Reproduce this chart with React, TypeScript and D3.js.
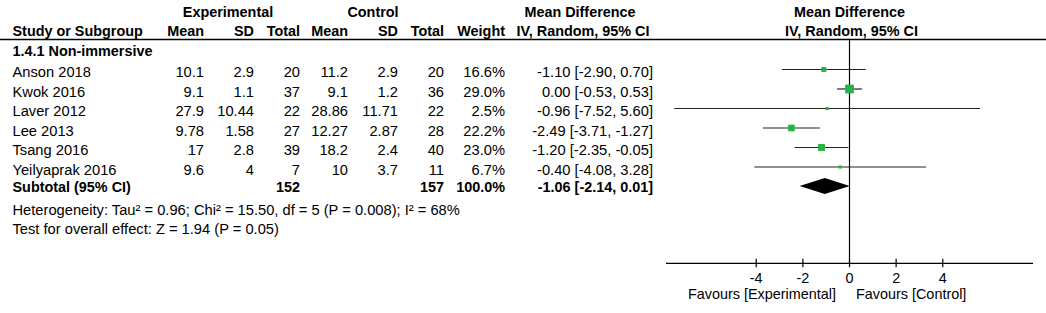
import React from "react";
import * as d3 from "d3";

const studies = ["Anson 2018", "Kwok 2016", "Laver 2012", "Lee 2013", "Tsang 2016", "Yeilyaprak 2016"];
const expMean = [10.1, 9.1, 27.9, 9.78, 17, 9.6];
const expSD = [2.9, 1.1, 10.44, 1.58, 2.8, 4];
const expN = [20, 37, 22, 27, 39, 7];
const ctlMean = [11.2, 9.1, 28.86, 12.27, 18.2, 10];
const ctlSD = [2.9, 1.2, 11.71, 2.87, 2.4, 3.7];
const ctlN = [20, 36, 22, 28, 40, 11];
const weights = [16.6, 29.0, 2.5, 22.2, 23.0, 6.7];
const md = [-1.1, 0.0, -0.96, -2.49, -1.2, -0.4];
const ciLo = [-2.9, -0.53, -7.52, -3.71, -2.35, -4.08];
const ciHi = [0.7, 0.53, 5.6, -1.27, -0.05, 3.28];
const subtotalN = [152, 157];
const subtotalWeight = 100.0;
const subtotalMD = [-1.06, -2.14, 0.01];
const ticks = [-4, -2, 0, 2, 4];
const groupTitle = "1.4.1 Non-immersive";
const heterogeneity = "Heterogeneity: Tau\u00b2 = 0.96; Chi\u00b2 = 15.50, df = 5 (P = 0.008); I\u00b2 = 68%";
const overallEffect = "Test for overall effect: Z = 1.94 (P = 0.05)";

const W = 1046;
const H = 313;
const FONT = "'Liberation Sans', Arial, Helvetica, sans-serif";
const FS = 14.7;
const FSB = 14.4;
const FSAX = 14.4;
const GREEN = "#25b443";

const x = d3.scaleLinear().domain([-7.87, 7.87]).range([666, 1033]);
const y = d3.scalePoint<string>().domain(studies).range([69.5, 167]);
const size = d3.scaleLinear().domain([0, 29]).range([0, 8.7]);

const cols = { name: 12.5, eMean: 204, eSD: 254, eN: 300, cMean: 348, cSD: 398, cN: 444, w: 505, ci: 653 };

const fmt2 = (v: number) => v.toFixed(2).replace("-0.00", "0.00");
const ciText = (m: number, l: number, h: number) => `${fmt2(m)} [${fmt2(l)}, ${fmt2(h)}]`;

export default function App() {
  const headerLineY = 39.5;
  const axisY = 263.3;
  const subY = 186;
  const tb = 7.6;
  const x0 = x(0);

  const T = (props: any) => (
    <text fontFamily={FONT} fontSize={props.fontWeight === "bold" ? FSB : FS} fill="#000" {...props} />
  );

  return (
    <svg
      width={W}
      height={H}
      style={{ position: "absolute", left: 0, top: 0, background: "#fff" }}
    >
      <rect x={0} y={0} width={W} height={H} fill="#fff" />
      <T x={228} y={17} textAnchor="middle" fontWeight="bold">Experimental</T>
      <T x={373} y={17} textAnchor="middle" fontWeight="bold">Control</T>
      <T x={580} y={17} textAnchor="middle" fontWeight="bold">Mean Difference</T>
      <T x={x0} y={17} textAnchor="middle" fontWeight="bold">Mean Difference</T>
      <T x={cols.name} y={35.5} fontWeight="bold">Study or Subgroup</T>
      <T x={cols.eMean} y={35.5} textAnchor="end" fontWeight="bold">Mean</T>
      <T x={cols.eSD} y={35.5} textAnchor="end" fontWeight="bold">SD</T>
      <T x={cols.eN} y={35.5} textAnchor="end" fontWeight="bold">Total</T>
      <T x={cols.cMean} y={35.5} textAnchor="end" fontWeight="bold">Mean</T>
      <T x={cols.cSD} y={35.5} textAnchor="end" fontWeight="bold">SD</T>
      <T x={cols.cN} y={35.5} textAnchor="end" fontWeight="bold">Total</T>
      <T x={cols.w} y={35.5} textAnchor="end" fontWeight="bold">Weight</T>
      <T x={583} y={35.5} textAnchor="middle" fontWeight="bold">IV, Random, 95% CI</T>
      <T x={x0 + 2} y={35.5} textAnchor="middle" fontWeight="bold">IV, Random, 95% CI</T>
      <line x1={0} x2={W} y1={headerLineY} y2={headerLineY} stroke="#000" strokeWidth={1.3} />

      <T x={cols.name} y={56} fontWeight="bold">{groupTitle}</T>

      <line x1={x0} x2={x0} y1={headerLineY} y2={axisY} stroke="#000" strokeWidth={1.2} />

      {studies.map((s, i) => {
        const cy = y(s) as number;
        const ty = cy + tb;
        const sz = Math.max(3.2, size(weights[i]));
        return (
          <g key={s}>
            <T x={cols.name} y={ty}>{s}</T>
            <T x={cols.eMean} y={ty} textAnchor="end">{String(expMean[i])}</T>
            <T x={cols.eSD} y={ty} textAnchor="end">{String(expSD[i])}</T>
            <T x={cols.eN} y={ty} textAnchor="end">{String(expN[i])}</T>
            <T x={cols.cMean} y={ty} textAnchor="end">{String(ctlMean[i])}</T>
            <T x={cols.cSD} y={ty} textAnchor="end">{String(ctlSD[i])}</T>
            <T x={cols.cN} y={ty} textAnchor="end">{String(ctlN[i])}</T>
            <T x={cols.w} y={ty} textAnchor="end">{weights[i].toFixed(1) + "%"}</T>
            <T x={cols.ci} y={ty} textAnchor="end">{ciText(md[i], ciLo[i], ciHi[i])}</T>
            <line x1={x(ciLo[i])} x2={x(ciHi[i])} y1={cy} y2={cy} stroke="#222" strokeWidth={1.2} />
            <rect x={x(md[i]) - sz / 2} y={cy - sz / 2} width={sz} height={sz} fill={GREEN} />
          </g>
        );
      })}

      <T x={cols.name} y={subY + 6} fontWeight="bold">Subtotal (95% CI)</T>
      <T x={cols.eN} y={subY + 6} textAnchor="end" fontWeight="bold">{String(subtotalN[0])}</T>
      <T x={cols.cN} y={subY + 6} textAnchor="end" fontWeight="bold">{String(subtotalN[1])}</T>
      <T x={cols.w} y={subY + 6} textAnchor="end" fontWeight="bold">{subtotalWeight.toFixed(1) + "%"}</T>
      <T x={cols.ci} y={subY + 6} textAnchor="end" fontWeight="bold">
        {ciText(subtotalMD[0], subtotalMD[1], subtotalMD[2])}
      </T>
      <path
        d={`M${x(subtotalMD[1])},${subY} L${x(subtotalMD[0])},${subY - 8} L${x(subtotalMD[2])},${subY} L${x(subtotalMD[0])},${subY + 8} Z`}
        fill="#000"
      />

      <T x={cols.name} y={215}>{heterogeneity}</T>
      <T x={cols.name} y={234}>{overallEffect}</T>

      <line x1={x.range()[0]} x2={x.range()[1]} y1={axisY} y2={axisY} stroke="#000" strokeWidth={1.2} />
      {ticks.map((t) => (
        <g key={t}>
          <line x1={x(t)} x2={x(t)} y1={axisY - 4.5} y2={axisY + 4} stroke="#000" strokeWidth={1.2} />
          <T x={x(t)} y={282.5} textAnchor="middle" fontSize={FSAX}>{String(t)}</T>
        </g>
      ))}
      <T x={x0 - 13.5} y={299} textAnchor="end" fontSize={FSAX}>Favours [Experimental]</T>
      <T x={x0 + 6.5} y={299} fontSize={FSAX}>Favours [Control]</T>
    </svg>
  );
}
